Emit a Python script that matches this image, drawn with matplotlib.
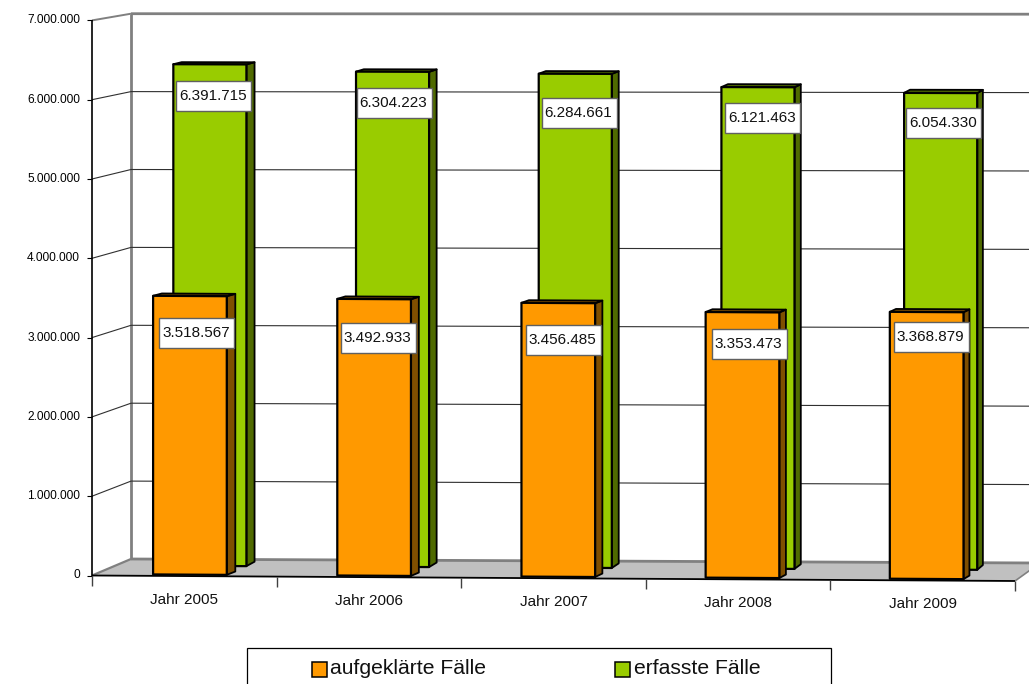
import matplotlib
matplotlib.use("Agg")
import matplotlib.pyplot as plt
from matplotlib.patches import Polygon, Rectangle

plt.rcParams["font.family"] = ["Liberation Sans", "DejaVu Sans"]

years = ["Jahr 2005", "Jahr 2006", "Jahr 2007", "Jahr 2008", "Jahr 2009"]
erfasst = [6391715, 6304223, 6284661, 6121463, 6054330]
aufgeklaert = [3518567, 3492933, 3456485, 3353473, 3368879]
y_ticks = [0, 1000000, 2000000, 3000000, 4000000, 5000000, 6000000, 7000000]


def fmt(v):
    return f"{v:,}".replace(",", ".")


# fake 3d: c = category position, v = value, d = depth (0 front, 1 back wall)
def proj(c, v, d):
    front_x = 92 + c * 184.6
    back_x = 131 + c * 181.8
    front_y = 575.5 + c * 1.1
    back_y = 559 + c * 0.8
    back_scale = 77.9 + c * 0.1
    x = front_x + d * (back_x - front_x)
    dy = d ** 1.3
    base = front_y + dy * (back_y - front_y)
    scale = 79.3 + dy * (back_scale - 79.3)
    return x, base - v / 1e6 * scale


fig = plt.figure(figsize=(10.29, 6.84), dpi=100)
ax = fig.add_axes([0, 0, 1, 1])
ax.set(xlim=(0, 1029), ylim=(684, 0))
ax.axis("off")


def poly(points, face, edge="none", lw=0.0, z=1):
    ax.add_patch(Polygon(points, closed=True, facecolor=face, edgecolor=edge,
                         linewidth=lw, joinstyle="round", zorder=z))


def line(a, b, color="black", lw=0.8, z=2):
    ax.plot([a[0], b[0]], [a[1], b[1]], color=color, linewidth=lw, zorder=z,
            solid_capstyle="butt")


# floor
poly([proj(0, 0, 0), proj(5, 0, 0), proj(5, 0, 1), proj(0, 0, 1)], "#C0C0C0")
top = y_ticks[-1]
line(proj(0, 0, 1), proj(0, top, 1), "#808080", 2)
line(proj(0, top, 1), proj(5, top, 1), "#808080", 2)
line(proj(0, top, 0), proj(0, top, 1), "#808080", 1.4)
line(proj(0, 0, 0), proj(0, 0, 1), "#808080", 1.6)
line(proj(0, 0, 1), proj(5, 0, 1), "#808080", 2)
line(proj(5, 0, 0), proj(5, 0, 1), "#808080", 1.2)

# grid and value axis
for v in y_ticks[1:-1]:
    line(proj(0, v, 0), proj(0, v, 1), "#303030", 0.8)
    line(proj(0, v, 1), proj(5, v, 1), "#303030", 0.8)
line(proj(0, 0, 0), proj(0, top, 0), "black", 1.2, 3)
for v in y_ticks:
    x, y = proj(0, v, 0)
    line((x - 5, y), (x, y), "black", 0.8, 3)
    ax.text(80, y, fmt(v), ha="right", va="center", fontsize=8.6, color="black")

# category axis
line(proj(0, 0, 0), proj(5, 0, 0), "black", 1.3, 3)
for c in range(6):
    x, y = proj(c, 0, 0)
    line((x, y), (x, y + 10), "#404040", 1, 3)
for c, name in enumerate(years):
    x, y = proj(c + 0.5, 0, 0)
    ax.text(x, y + 24, name, ha="center", va="center", fontsize=11, color="#111111")


def bar(c, v, d0, d1, face, side, z):
    c0, c1 = c + 0.3, c + 0.7
    poly([proj(c1, 0, d0), proj(c1, 0, d1), proj(c1, v, d1), proj(c1, v, d0)], side, "black", 1.3, z)
    poly([proj(c0, v, d0), proj(c1, v, d0), proj(c1, v, d1), proj(c0, v, d1)], side, "black", 1.3, z)
    poly([proj(c0, 0, d0), proj(c1, 0, d0), proj(c1, v, d0), proj(c0, v, d0)], face, "black", 1.6, z)


for c, v in enumerate(erfasst):
    bar(c, v, 0.68, 0.9, "#99CC00", "#4F6A00", 5)
for c, v in enumerate(aufgeklaert):
    bar(c, v, 0.15, 0.38, "#FF9900", "#7F4F00", 6)

# data labels were moved by hand in the original, so keep their offsets from the bar top
green_dx = [4, 2, 4, 5, 3]
green_dy = [32, 31, 39, 31, 30]
orange_dx = [7, 4, 5, 7, 5]
orange_dy = [37, 39, 37, 32, 25]
for vals, d, dxs, dys in [(erfasst, 0.68, green_dx, green_dy),
                          (aufgeklaert, 0.15, orange_dx, orange_dy)]:
    for c, v in enumerate(vals):
        x, y = proj(c + 0.5, v, d)
        x, y = x + dxs[c], y + dys[c]
        ax.add_patch(Rectangle((x - 37.5, y - 15), 75, 30, facecolor="white",
                               edgecolor="#606060", linewidth=1, zorder=10))
        ax.text(x - 1, y, fmt(v), ha="center", va="center", fontsize=11,
                color="#111111", zorder=11)

# legend, its lower edge is cut off by the picture
ax.add_patch(Rectangle((246.5, 647.5), 584, 60, facecolor="white", edgecolor="black",
                       linewidth=0.9, zorder=8))
ax.add_patch(Rectangle((312, 662), 15, 15, facecolor="#FF9900", edgecolor="black",
                       linewidth=1.1, zorder=9))
ax.text(330, 669, "aufgeklärte Fälle", va="center", fontsize=15.2, color="#111111", zorder=9)
ax.add_patch(Rectangle((615, 662), 15, 15, facecolor="#99CC00", edgecolor="black",
                       linewidth=1.1, zorder=9))
ax.text(634, 669, "erfasste Fälle", va="center", fontsize=15.2, color="#111111", zorder=9)

fig.savefig("out.png", dpi=100)
